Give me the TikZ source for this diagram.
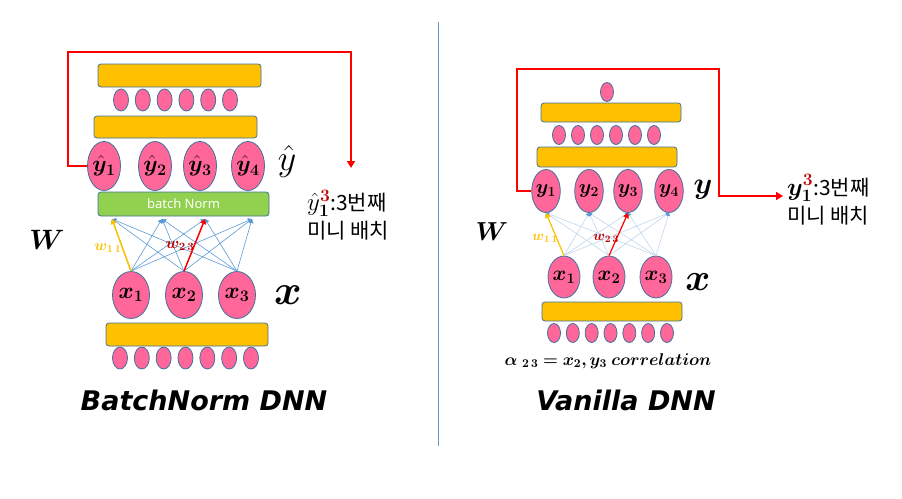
\RequirePackage{fix-cm}
\documentclass[tikz,border=0pt]{standalone}
\usepackage{amsmath,bm}
\usepackage{fontspec}
\setmainfont{Noto Sans}
\newfontfamily\krfont{Noto Sans CJK KR}
\newfontfamily\titlefont{DejaVu Sans}
\usetikzlibrary{shapes.geometric,arrows.meta}
\definecolor{neuronpink}{HTML}{FF6699}
\definecolor{edgeblue}{HTML}{41719C}
\definecolor{barorange}{HTML}{FFC000}
\definecolor{normgreen}{HTML}{92D050}
\definecolor{wireblue}{HTML}{5B9BD5}
\definecolor{paleblue}{HTML}{BDD7EE}
\definecolor{darkred}{HTML}{C00000}
\newcommand{\fs}[1]{\fontsize{#1}{#1}\selectfont}
\begin{document}
\begin{tikzpicture}[x=1pt,y=-1pt,
    neuron/.style={ellipse,draw=edgeblue,fill=neuronpink,line width=0.8pt,inner sep=0pt},
    dotL/.style={neuron,minimum width=15pt,minimum height=22pt},
    dotR/.style={neuron,minimum width=13pt,minimum height=19pt},
    layerbar/.style={draw=edgeblue,fill=barorange,rounded corners=3pt,line width=0.8pt,inner sep=0pt},
    wire/.style={wireblue,line width=0.6pt,-{Triangle[width=5pt,length=4pt]}},
    palewire/.style={paleblue,line width=0.6pt,-{Triangle[width=4pt,length=3pt,color=wireblue]}},
    yellowwire/.style={barorange,line width=1.5pt,-{Triangle[width=6pt,length=5pt]}},
    redwire/.style={red,line width=1.5pt,-{Triangle[width=6pt,length=5pt]}},
    feedback/.style={red,line width=2pt,-{Triangle[width=8pt,length=7pt]}}]
  \useasboundingbox (0,0) rectangle (902,498);

  % left: BatchNorm DNN
  \node[layerbar,minimum width=163pt,minimum height=23pt] (barL1) at (179.5,75.5) {};
  \foreach \k in {0,...,5}
    \node[dotL] (topL\k) at (121+21.8*\k,100) {};
  \node[layerbar,minimum width=163pt,minimum height=22pt] (barL2) at (175.5,127) {};
  \node[neuron,minimum width=33pt,minimum height=49pt] (hy1) at (104,166) {\fs{23}$\hat{\bm y}_{\bm 1}$};
  \node[neuron,minimum width=33pt,minimum height=49pt] (hy2) at (155,166) {\fs{23}$\hat{\bm y}_{\bm 2}$};
  \node[neuron,minimum width=33pt,minimum height=49pt] (hy3) at (200,166) {\fs{23}$\hat{\bm y}_{\bm 3}$};
  \node[neuron,minimum width=33pt,minimum height=49pt] (hy4) at (248,166) {\fs{23}$\hat{\bm y}_{\bm 4}$};
  \node[draw=edgeblue,fill=normgreen,rounded corners=3pt,line width=0.8pt,minimum width=171pt,minimum height=24pt,text=white]
    (norm) at (183.5,204) {\fs{13}batch Norm};
  \node[neuron,minimum width=37pt,minimum height=47pt] (x1) at (131,295) {\fs{23}$\bm{x_1}$};
  \node[neuron,minimum width=37pt,minimum height=47pt] (x2) at (184,295) {\fs{23}$\bm{x_2}$};
  \node[neuron,minimum width=37pt,minimum height=47pt] (x3) at (237,295) {\fs{23}$\bm{x_3}$};
  \node[layerbar,minimum width=162pt,minimum height=23pt] (barL3) at (187,334.5) {};
  \foreach \k in {0,...,6}
    \node[dotL] (botL\k) at (120+21.83*\k,358) {};

  \coordinate (t1) at (112,219);
  \coordinate (t2) at (162,219);
  \coordinate (t3) at (205,219);
  \coordinate (t4) at (252,219);
  \foreach \i in {1,2,3}
    \foreach \j in {1,...,4}
      \draw[wire] (x\i.north) -- (t\j);
  \draw[yellowwire] (x1.north) -- (t1);
  \draw[redwire] (x2.north) -- (t3);

  \node[text=barorange] (w11L) at (108,248) {\fs{15}$\bm{w_{1\,1}}$};
  \node[text=darkred] (w23L) at (180,246) {\fs{16}$\bm{w_{2\,3}}$};
  \node (WL) at (47,240) {\fs{28}$\bm{W}$};
  \node (hyL) at (287,161) {\fs{36}$\hat y$};
  \node (xL) at (288,295) {\fs{42}$\bm{x}$};

  \node[anchor=west,align=left,inner sep=0pt] (noteL) at (307,215)
    {{\fs{25}$\hat y_{\bm 1}^{\textcolor{darkred}{\bm 3}}$}\krfont\fs{21}:3번째\\[4pt]\krfont\fs{21}미니 배치};
  \coordinate (loopL1) at (68,52);
  \coordinate (loopL2) at (351,52);
  \coordinate (tipL) at (351,168);
  \draw[feedback] (hy1.west) -| (loopL1) -- (loopL2) -- (tipL);

  \node (titleL) at (204,400) {\titlefont\bfseries\itshape\fs{27}BatchNorm DNN};

  % divider
  \coordinate (divT) at (438,22);
  \coordinate (divB) at (438,446);
  \draw[wireblue,line width=1pt] (divT) -- (divB);

  % right: Vanilla DNN
  \node[dotR] (topR) at (607,92) {};
  \node[layerbar,minimum width=140pt,minimum height=19pt] (barR1) at (611,112.5) {};
  \foreach \k in {0,...,5}
    \node[dotR] (midR\k) at (559+19*\k,135) {};
  \node[layerbar,minimum width=140pt,minimum height=20pt] (barR2) at (607,157) {};
  \node[neuron,minimum width=28pt,minimum height=43pt] (y1) at (546,191) {\fs{20}$\bm{y_1}$};
  \node[neuron,minimum width=28pt,minimum height=43pt] (y2) at (589,191) {\fs{20}$\bm{y_2}$};
  \node[neuron,minimum width=28pt,minimum height=43pt] (y3) at (628,191) {\fs{20}$\bm{y_3}$};
  \node[neuron,minimum width=28pt,minimum height=43pt] (y4) at (669,191) {\fs{20}$\bm{y_4}$};
  \node[neuron,minimum width=32pt,minimum height=42pt] (xr1) at (564,277) {\fs{21}$\bm{x_1}$};
  \node[neuron,minimum width=32pt,minimum height=42pt] (xr2) at (609,277) {\fs{21}$\bm{x_2}$};
  \node[neuron,minimum width=32pt,minimum height=42pt] (xr3) at (656,277) {\fs{21}$\bm{x_3}$};
  \node[layerbar,minimum width=140pt,minimum height=19pt] (barR3) at (612,311.5) {};
  \foreach \k in {0,...,6}
    \node[dotR] (botR\k) at (554+18.83*\k,333) {};

  \foreach \i in {1,2,3}
    \foreach \j in {1,...,4}
      \draw[palewire] (xr\i.north) -- (y\j.south);
  \draw[yellowwire,line width=1.2pt] (xr1.north) -- (y1.south);
  \draw[redwire,line width=1.2pt] (xr2.north) -- (y3.south);

  \node[text=barorange] (w11R) at (545,238) {\fs{14}$\bm{w_{1\,1}}$};
  \node[text=darkred] (w23R) at (606,238) {\fs{14}$\bm{w_{2\,3}}$};
  \node (WR) at (492,232) {\fs{26}$\bm{W}$};
  \node (yR) at (703,190) {\fs{30}$\bm{y}$};
  \node (xR) at (698,282) {\fs{38}$\bm{x}$};

  \node[anchor=west,align=left,inner sep=0pt] (noteR) at (787,200)
    {{\fs{25}$\bm{y}_{\bm 1}^{\textcolor{darkred}{\bm 3}}$}\krfont\fs{21}:3번째\\[4pt]\krfont\fs{21}미니 배치};
  \coordinate (loopR1) at (517,69);
  \coordinate (loopR2) at (719,69);
  \coordinate (tipR) at (783,196);
  \draw[feedback] (y1.west) -| (loopR1) -- (loopR2) |- (tipR);

  \node (corr) at (608,361) {\fs{17}$\bm{\alpha\ _{2\,3} = x_2, y_3\ correlation}$};
  \node (titleR) at (626,400) {\titlefont\bfseries\itshape\fs{27}Vanilla DNN};
\end{tikzpicture}
\end{document}
